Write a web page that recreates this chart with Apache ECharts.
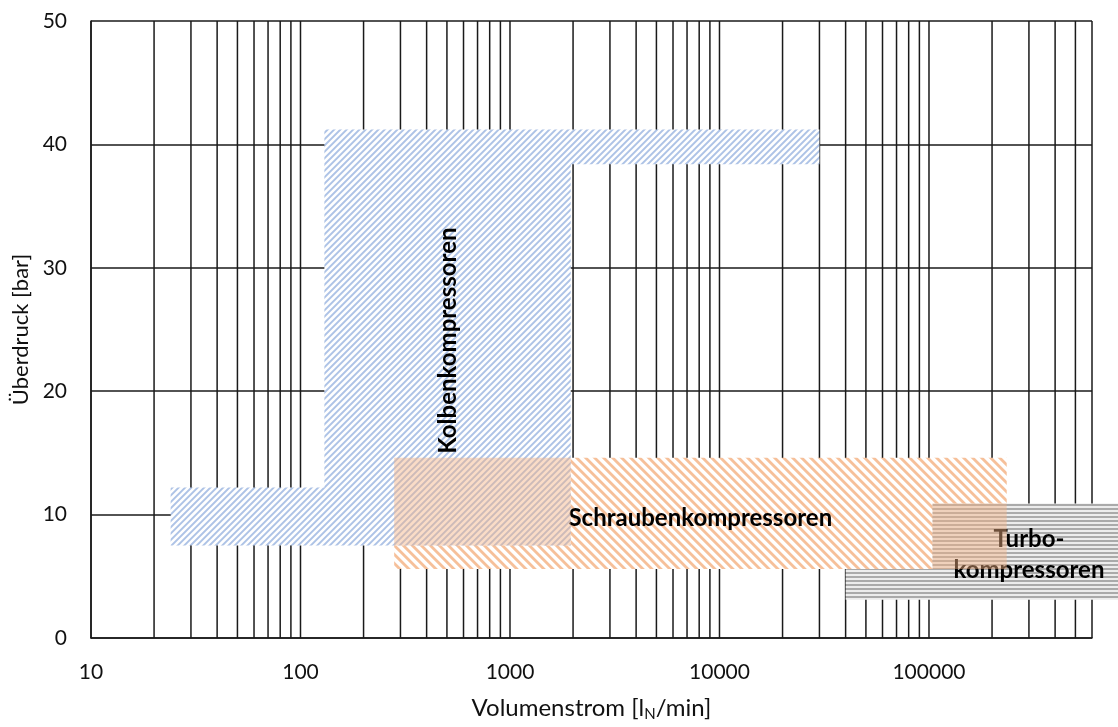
<!DOCTYPE html>
<html>
<head>
<meta charset="utf-8">
<script src="https://cdn.jsdelivr.net/npm/echarts@6/dist/echarts.min.js"></script>
<style>html,body{margin:0;padding:0;background:#fff}#c{width:1118px;height:727px}</style>
</head>
<body>
<div id="c"></div>
<script>
// ---- axes ----
const xMin = 10, xMax = 600000;
const yMin = 0, yMax = 50, yStep = 10;
const xTickValues = [10, 100, 1000, 10000, 100000];
const xTickLabels = ['10', '100', '1000', '10000', '100000'];
const xGridValues = [
  10, 20, 30, 40, 50, 60, 70, 80, 90,
  100, 200, 300, 400, 500, 600, 700, 800, 900,
  1000, 2000, 3000, 4000, 5000, 6000, 7000, 8000, 9000,
  10000, 20000, 30000, 40000, 50000, 60000, 70000, 80000, 90000,
  100000, 200000, 300000, 400000, 500000, 600000
];

// ---- regions (polygon vertices) ----
const kolbenX = [24, 24, 130, 130, 30000, 30000, 1950, 1950];
const kolbenY = [7.5, 12.2, 12.2, 41.2, 41.2, 38.4, 38.4, 7.5];
const schraubenX = [280, 280, 235000, 235000];
const schraubenY = [5.6, 14.6, 14.6, 5.6];
const turboX = [40000, 40000, 104000, 104000, 1000000, 1000000];
const turboY = [3.1, 5.6, 5.6, 10.9, 10.9, 3.1];

// overlap areas (tinted)
const overlapX0 = [280, 104000];
const overlapX1 = [1950, 235000];
const overlapY0 = [7.5, 5.6];
const overlapY1 = [14.6, 10.9];

// ---- labels ----
const labelText = ['Kolbenkompressoren', 'Schraubenkompressoren', 'Turbo-\nkompressoren'];
const labelX = [505, 8100, 300000];
const labelY = [24.1, 9.7, 6.75];
const labelRotate = [90, 0, 0];

const FONT = 'Lato, "Open Sans", sans-serif';

function hexToRgb(h) {
  h = h.replace('#', '');
  return [parseInt(h.substr(0, 2), 16), parseInt(h.substr(2, 2), 16), parseInt(h.substr(4, 2), 16)];
}
// mode: 'up' (/), 'down' (\), 'h' (horizontal)
function makePattern(size, period, width, mode, fg, bg) {
  const c = document.createElement('canvas');
  c.width = c.height = size;
  const ctx = c.getContext('2d');
  const img = ctx.createImageData(size, size);
  const f = hexToRgb(fg), b = hexToRgb(bg);
  const N = 4;
  for (let y = 0; y < size; y++) {
    for (let x = 0; x < size; x++) {
      let cov = 0;
      for (let sy = 0; sy < N; sy++) for (let sx = 0; sx < N; sx++) {
        const px = x + (sx + 0.5) / N, py = y + (sy + 0.5) / N;
        let u = mode === 'up' ? px + py : (mode === 'down' ? px - py : py);
        const m = ((u % period) + period) % period;
        if (m < width) cov++;
      }
      cov /= N * N;
      const i = (y * size + x) * 4;
      img.data[i] = Math.round(f[0] * cov + b[0] * (1 - cov));
      img.data[i + 1] = Math.round(f[1] * cov + b[1] * (1 - cov));
      img.data[i + 2] = Math.round(f[2] * cov + b[2] * (1 - cov));
      img.data[i + 3] = 255;
    }
  }
  ctx.putImageData(img, 0, 0);
  return { image: c, repeat: 'repeat' };
}

const bluePattern = makePattern(19, 19 / 3, 2.7, 'up', '#AEC3E6', '#FFFFFF');
const orangePattern = makePattern(18, 9, 3.8, 'down', '#F6C09A', '#FFFFFF');
const grayPattern = makePattern(4, 4, 2, 'h', '#AAAAAA', '#ECECEC');

function polySeries(name, xs, ys, fill, z) {
  return {
    type: 'custom', name: name, z: z, clip: false, silent: true,
    data: xs.map((x, i) => [x, ys[i]]),
    encode: { x: 0, y: 1 },
    renderItem: function (params, api) {
      if (params.dataIndex !== 0) return null;
      const pts = xs.map((x, i) => api.coord([x, ys[i]]));
      return { type: 'polygon', shape: { points: pts }, style: { fill: fill } };
    }
  };
}

const chart = echarts.init(document.getElementById('c'), null, { renderer: 'canvas' });
chart.setOption({
  animation: false,
  backgroundColor: '#fff',
  grid: { left: 91, right: 26, top: 21, bottom: 84, containLabel: false },
  xAxis: {
    type: 'log', logBase: 10, min: xMin, max: xMax,
    name: '{t|Volumenstrom [l}{s|N}{t|/min]}',
    nameLocation: 'middle', nameGap: 56,
    nameTextStyle: {
      rich: {
        t: { fontSize: 24, fontFamily: FONT, color: '#111', lineHeight: 28 },
        s: { fontSize: 15, fontFamily: FONT, color: '#111', lineHeight: 28, verticalAlign: 'bottom' }
      }
    },
    axisLine: { show: true, lineStyle: { color: '#1a1a1a', width: 1.5 } },
    axisTick: { show: false },
    splitLine: { show: false },
    axisLabel: {
      margin: 24, fontSize: 21, fontFamily: FONT, color: '#111',
      formatter: function (v) {
        for (let i = 0; i < xTickValues.length; i++) {
          if (Math.abs(v - xTickValues[i]) / xTickValues[i] < 1e-6) return xTickLabels[i];
        }
        return '';
      }
    }
  },
  yAxis: {
    type: 'value', min: yMin, max: yMax, interval: yStep,
    name: 'Überdruck [bar]',
    nameLocation: 'middle', nameGap: 55,
    nameTextStyle: { fontSize: 22, fontFamily: FONT, color: '#111' },
    axisLine: { show: true, lineStyle: { color: '#1a1a1a', width: 1.5 } },
    axisTick: { show: false },
    splitLine: { show: true, lineStyle: { color: '#1a1a1a', width: 1.5 } },
    axisLabel: { margin: 24, fontSize: 21, fontFamily: FONT, color: '#111' }
  },
  series: [
    {
      type: 'custom', name: 'grid', z: 1, silent: true,
      data: xGridValues.map(v => [v, yMin]),
      encode: { x: 0, y: 1 },
      renderItem: function (params, api) {
        const v = api.value(0);
        const p0 = api.coord([v, yMin]);
        const p1 = api.coord([v, yMax]);
        return { type: 'line', shape: { x1: p0[0], y1: p0[1], x2: p1[0], y2: p1[1] },
                 style: { stroke: '#1a1a1a', lineWidth: 1.5 } };
      }
    },
    polySeries('Schraubenkompressoren', schraubenX, schraubenY, orangePattern, 2),
    polySeries('Kolbenkompressoren', kolbenX, kolbenY, bluePattern, 3),
    polySeries('Turbokompressoren', turboX, turboY, grayPattern, 3),
    {
      type: 'custom', name: 'labels', z: 4, clip: false, silent: true,
      data: labelX.map((x, i) => [x, labelY[i]]),
      encode: { x: 0, y: 1 },
      renderItem: function (params, api) {
        const i = params.dataIndex;
        const p = api.coord([api.value(0), api.value(1)]);
        return {
          type: 'text', x: p[0], y: p[1], rotation: labelRotate[i] * Math.PI / 180,
          style: {
            text: labelText[i], fill: '#000', fontSize: 24, fontWeight: 'bold', fontFamily: FONT,
            align: 'center', verticalAlign: 'middle', lineHeight: 31
          }
        };
      }
    },
    {
      type: 'custom', name: 'overlap', z: 5, clip: false, silent: true,
      data: overlapX0.map((x, i) => [x, overlapY0[i], overlapX1[i], overlapY1[i]]),
      encode: { x: [0, 2], y: [1, 3] },
      renderItem: function (params, api) {
        const a = api.coord([api.value(0), api.value(3)]);
        const b = api.coord([api.value(2), api.value(1)]);
        return { type: 'rect', shape: { x: a[0], y: a[1], width: b[0] - a[0], height: b[1] - a[1] },
                 style: { fill: 'rgba(244,177,131,0.45)' } };
      }
    }
  ]
});
</script>
</body>
</html>
